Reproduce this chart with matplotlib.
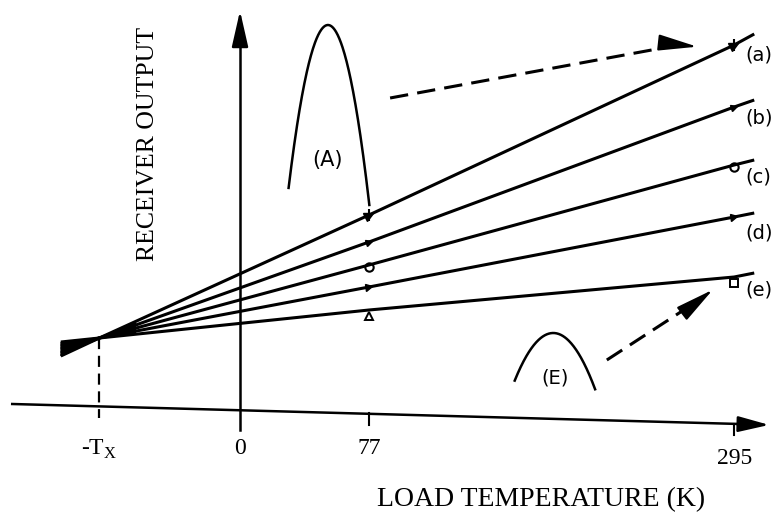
import numpy as np
import matplotlib
matplotlib.use('Agg')
import matplotlib.pyplot as plt
from matplotlib.markers import MarkerStyle
from matplotlib.transforms import Affine2D

plt.rcParams['font.family'] = ['Liberation Serif', 'DejaVu Serif']
plt.rcParams['mathtext.fontset'] = 'custom'
plt.rcParams['mathtext.rm'] = 'Liberation Serif'

# ---------------- data ----------------
series_labels = ['(a)', '(b)', '(c)', '(d)', '(e)']
Tx = 84                                   # K  (crossing point, -Tx)
line_temps = [-107, -Tx, 77, 295, 307]    # load temperature, K
out_a = [49, 67, 190, 360, 371]           # receiver output (arb.)
out_b = [52, 67, 163, 298, 305]
out_c = [56, 67, 140, 240, 245]
out_d = [59, 67, 118, 188, 192]
out_e = [63, 67, 95, 128, 132]
tick_temps = [-Tx, 0, 77, 295]
tick_labels = [r'-T$_{\rm X}$', '0', '77', '295']
x_title = 'LOAD TEMPERATURE (K)'
y_title = 'RECEIVER OUTPUT'
# two spectra sketches (A) and (E): peak position, peak height, curvature, span
spec_A = dict(label='(A)', peak_t=52.5, peak_y=380, k=0.295, t0=29.0, t1=77.2)
spec_E = dict(label='(E)', peak_t=187.0, peak_y=72, k=0.09, t0=164.0, t1=212.0)

series = [out_a, out_b, out_c, out_d, out_e]

# ---------------- figure ----------------
fig = plt.figure(figsize=(7.75, 5.23), dpi=100)
ax = fig.add_axes([0, 0, 1, 1])
ax.set_xlim(-143.3, 319.4)
ax.set_ylim(-118, 405)
ax.axis('off')

LW = 2.2
# main lines
for s in series:
    ax.plot(line_temps, s, color='k', lw=LW, solid_capstyle='butt', zorder=3)

# filled fan left of the crossing point
ax.fill([line_temps[0], line_temps[0], line_temps[1]],
        [out_a[0], out_e[0], out_a[1]], color='k', lw=0.5, zorder=3)
ax.fill([line_temps[1], -62, -62],
        [out_a[1], np.interp(-62, line_temps, out_a), np.interp(-62, line_temps, out_e)],
        color='k', lw=0, zorder=3)

# markers at 77 K and 295 K
def arrow_marker(ang):
    return MarkerStyle('>', transform=Affine2D().rotate_deg(ang))

angles = [24.7, 20.0, 15.2, 10.8, 5.6]
for i, s in enumerate(series):
    for j in (2, 3):
        if i in (0, 1, 3):
            ax.plot(line_temps[j], s[j], marker=arrow_marker(angles[i]), ms=7 if i == 0 else 5,
                    color='k', zorder=4)
            if i == 0:
                ax.plot(line_temps[j], s[j], marker='|', ms=8, mew=1.5, color='k', zorder=4)
        elif i == 2:
            ax.plot(line_temps[j], s[j] - 2, marker='o', ms=6, mfc='none', mec='k', mew=1.5, zorder=4)
        else:
            ax.plot(line_temps[j], s[j] - 6, marker='^' if j == 2 else 's', ms=6,
                    mfc='white', mec='k', mew=1.4, zorder=4)

# series labels
label_y = [350, 287, 228, 172, 115]
for lab, yy in zip(series_labels, label_y):
    ax.text(301.5, yy, lab, fontsize=14, ha='left', va='center', family=['DejaVu Sans'])

# vertical axis with arrow
ax.plot([0, 0], [-25, 370], color='k', lw=1.8, zorder=2)
ax.annotate('', xy=(0, 397), xytext=(0, 360),
            arrowprops=dict(arrowstyle='-|>,head_length=1.1,head_width=0.25',
                            mutation_scale=20, color='k', lw=1.8))
# horizontal axis (slightly tilted like the scan) with arrow
ax.plot([-136, 305], [1, -19.3], color='k', lw=1.8, zorder=2)
ax.annotate('', xy=(317.6, -20), xytext=(295, -19),
            arrowprops=dict(arrowstyle='-|>,head_length=0.95,head_width=0.24',
                            mutation_scale=20, color='k', lw=1.8))
# ticks
ax.plot([77, 77], [-8, -20], color='k', lw=1.5)
ax.plot([295, 295], [-19, -30], color='k', lw=1.5)
ax.plot([-Tx, -Tx], [67, -13], color='k', lw=1.6, ls=(0, (5, 3)))

tick_y = [-44, -44, -44, -53]
for t, lab, ty in zip(tick_temps, tick_labels, tick_y):
    ax.text(t, ty, lab, fontsize=17, ha='center', va='center')

ax.text(180, -95, x_title, fontsize=20, ha='center', va='center')
ax.text(-55, 261, y_title, fontsize=18.5, ha='center', va='center', rotation=90)

# spectra sketches
for sp in (spec_A, spec_E):
    tt = np.linspace(sp['t0'], sp['t1'], 200)
    ax.plot(tt, sp['peak_y'] - sp['k'] * (tt - sp['peak_t']) ** 2, color='k', lw=1.8)
ax.text(52.5, 245, spec_A['label'], fontsize=15, ha='center', va='center', family=['DejaVu Sans'])
ax.text(188, 27, spec_E['label'], fontsize=14, ha='center', va='center', family=['DejaVu Sans'])

# dashed arrows
ax.plot([89.6, 262], [307, 360], color='k', lw=2.2, ls=(0, (6, 3)))
ax.annotate('', xy=(274.6, 358), xytext=(258, 361),
            arrowprops=dict(arrowstyle='-|>,head_length=1.2,head_width=0.25',
                            mutation_scale=20, color='k', lw=1.5))
ax.plot([219, 275], [45, 106], color='k', lw=2.2, ls=(0, (6, 3)))
ax.annotate('', xy=(283.6, 117), xytext=(272, 102),
            arrowprops=dict(arrowstyle='-|>,head_length=1.2,head_width=0.25',
                            mutation_scale=20, color='k', lw=1.5))

fig.savefig('out.png', dpi=100)
